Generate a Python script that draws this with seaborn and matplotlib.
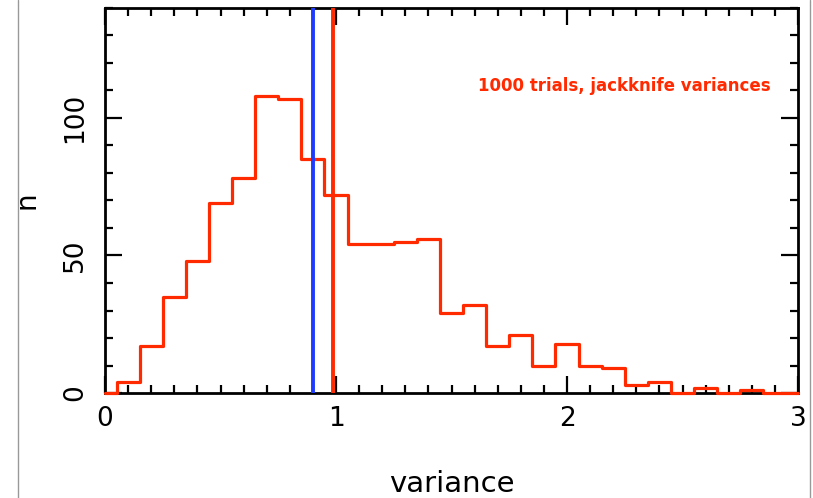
import numpy as np
import pandas as pd
import matplotlib
matplotlib.use("Agg")
import matplotlib.pyplot as plt
import seaborn as sns
from matplotlib.lines import Line2D
from matplotlib.ticker import MultipleLocator

# ---- data ----
bin_edges = [0.0, 0.05, 0.15, 0.25, 0.35, 0.45, 0.55, 0.65, 0.75, 0.85, 0.95,
             1.05, 1.15, 1.25, 1.35, 1.45, 1.55, 1.65, 1.75, 1.85, 1.95,
             2.05, 2.15, 2.25, 2.35, 2.45, 2.55, 2.65, 2.75, 2.85, 2.95, 3.0]
counts = [0, 4, 17, 35, 48, 69, 78, 108, 107, 85, 72,
          54, 54, 55, 56, 29, 32, 17, 21, 10, 18,
          10, 9, 3, 4, 0, 2, 0, 1, 0, 0]
blue_line_x = 0.90
red_line_x = 0.988
annotation = "1000 trials, jackknife variances"
x_label = "variance"
y_label = "n"

centers = [(bin_edges[i] + bin_edges[i + 1]) / 2 for i in range(len(counts))]
df = pd.DataFrame({"variance": centers, "n": counts})

sns.set_style("ticks")
plt.rcParams["font.family"] = ["DejaVu Sans"]
plt.rcParams["text.color"] = "black"
plt.rcParams["axes.labelcolor"] = "black"
plt.rcParams["xtick.color"] = "black"
plt.rcParams["ytick.color"] = "black"

RED = "#ff2a00"
BLUE = "#1e3cff"

fig = plt.figure(figsize=(8.13, 4.98), dpi=100)
ax = fig.add_axes([105 / 813, 105 / 498, (798 - 105) / 813, (393 - 8) / 498])

sns.histplot(data=df, x="variance", weights="n", bins=bin_edges,
             element="step", fill=False, color=RED, linewidth=2.3, ax=ax)
for ln in ax.lines:
    ln.set_zorder(3)
    ln.set_clip_on(False)

ax.axvline(blue_line_x, color=BLUE, linewidth=2.8, zorder=3)
ax.axvline(red_line_x, color=RED, linewidth=2.8, zorder=3)

ax.set_xlim(0, 3)
ax.set_ylim(0, 140)
ax.xaxis.set_major_locator(MultipleLocator(1))
ax.xaxis.set_minor_locator(MultipleLocator(0.1))
ax.yaxis.set_major_locator(MultipleLocator(50))
ax.yaxis.set_minor_locator(MultipleLocator(10))
ax.tick_params(which="both", direction="in", top=True, right=True,
               color="black", width=1.6, labelcolor="black")
ax.tick_params(which="major", length=12, labelsize=19, pad=9)
ax.tick_params(which="minor", length=6)
ax.tick_params(axis="y", which="major", pad=12)
for lbl in ax.get_yticklabels():
    lbl.set_rotation(90)
    lbl.set_va("center")

for s in ax.spines.values():
    s.set_visible(True)
    s.set_linewidth(2.0)
    s.set_color("black")

ax.set_xlabel(x_label, fontsize=21, labelpad=28, color="black")
ax.set_ylabel(y_label, fontsize=20, labelpad=16, color="black")

ax.text(2.25, 111.5, annotation, color=RED, fontsize=12, fontweight="bold",
        ha="center", va="center")

fig.add_artist(Line2D([18 / 813, 18 / 813], [0, 1], color="#999999", linewidth=1))
fig.add_artist(Line2D([810 / 813, 810 / 813], [0, 1], color="#999999", linewidth=1))

fig.savefig("out.png", dpi=100)
